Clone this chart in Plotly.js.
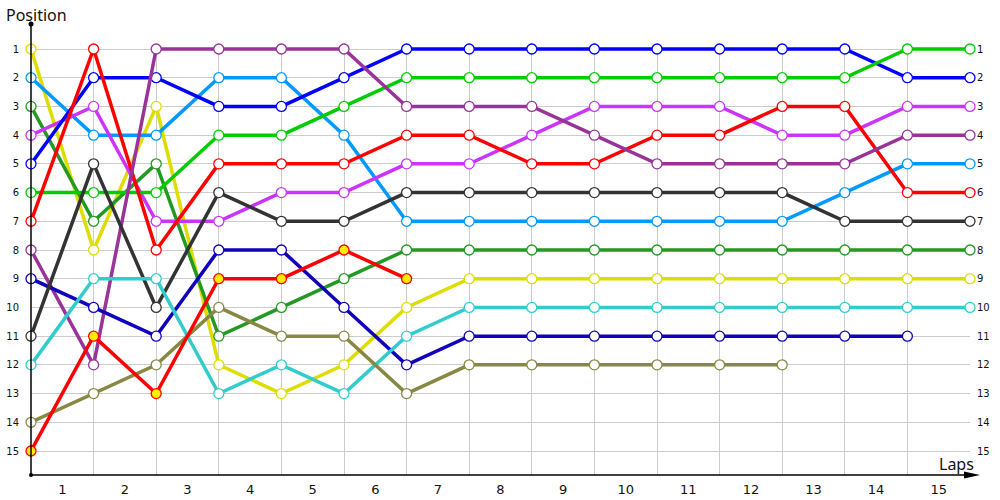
<!DOCTYPE html>
<html>
<head>
<meta charset="utf-8">
<script src="https://cdn.plot.ly/plotly-3.0.1.min.js"></script>
<style>html,body{margin:0;padding:0;background:#fff;}#chart{width:1000px;height:500px;}</style>
</head>
<body>
<div id="chart"></div>
<script>
// ---- data ----
const lapPoints = [0,1,2,3,4,5,6,7,8,9,10,11,12,13,14,15];
const lapLabelPos = [0.5,1.5,2.5,3.5,4.5,5.5,6.5,7.5,8.5,9.5,10.5,11.5,12.5,13.5,14.5];
const lapLabels = ["1","2","3","4","5","6","7","8","9","10","11","12","13","14","15"];
const positionTicks = [1,2,3,4,5,6,7,8,9,10,11,12,13,14,15];
const positionLabels = ["1","2","3","4","5","6","7","8","9","10","11","12","13","14","15"];

const yellowPos    = [1,8,3,12,13,12,10,9,9,9,9,9,9,9,9,9];
const lightBluePos = [2,4,4,2,2,4,7,7,7,7,7,7,7,6,5,5];
const darkGreenPos = [3,7,5,11,10,9,8,8,8,8,8,8,8,8,8,8];
const violetPos    = [4,3,7,7,6,6,5,5,4,3,3,3,4,4,3,3];
const bluePos      = [5,2,2,3,3,2,1,1,1,1,1,1,1,1,2,2];
const greenPos     = [6,6,6,4,4,3,2,2,2,2,2,2,2,2,1,1];
const redPos       = [7,1,8,5,5,5,4,4,5,5,4,4,3,3,6,6];
const purplePos    = [8,12,1,1,1,1,3,3,3,4,5,5,5,5,4,4];
const navyPos      = [9,10,11,8,8,10,12,11,11,11,11,11,11,11,11];
const grayPos      = [11,5,10,6,7,7,6,6,6,6,6,6,6,7,7,7];
const cyanPos      = [12,9,9,13,12,13,11,10,10,10,10,10,10,10,10,10];
const olivePos     = [14,13,12,10,11,11,13,12,12,12,12,12,12];
const redYellowPos = [15,11,13,9,9,8,9];

const seriesNames  = ["Yellow","Light blue","Dark green","Violet","Blue","Green","Red","Purple","Navy","Gray","Cyan","Olive","Red/Yellow"];
const seriesValues = [yellowPos,lightBluePos,darkGreenPos,violetPos,bluePos,greenPos,redPos,purplePos,navyPos,grayPos,cyanPos,olivePos,redYellowPos];
const seriesColors = ["#dddd00","#0099ff","#229922","#cc33ff","#0000ff","#00cc00","#ff0000","#993399","#1100bb","#333333","#33cccc","#888844","#ff0000"];
const markerFills  = ["#ffffff","#ffffff","#ffffff","#ffffff","#ffffff","#ffffff","#ffffff","#ffffff","#ffffff","#ffffff","#ffffff","#ffffff","#ffee00"];

// ---- geometry (layout only) ----
const L = 31, R = 970, T = 43, B = 475;
const W = R - L, H = B - T;
const px = p => (p - L) / W;
const py = p => (B - p) / H;

const traces = seriesValues.map((vals, i) => ({
  type: 'scatter',
  mode: 'lines+markers',
  name: seriesNames[i],
  x: lapPoints.slice(0, vals.length),
  y: vals,
  line: {color: seriesColors[i], width: 3.5},
  marker: {symbol: 'circle', size: 10, color: markerFills[i], line: {color: seriesColors[i], width: 1.3}},
  cliponaxis: false,
  hoverinfo: 'skip'
}));
traces.push({type:'scatter', x:[], y:[], xaxis:'x', yaxis:'y2', showlegend:false});

const layout = {
  width: 1000, height: 500,
  margin: {l: L, r: 1000 - R, t: T, b: 500 - B},
  paper_bgcolor: '#ffffff', plot_bgcolor: '#ffffff',
  showlegend: false,
  font: {family: 'DejaVu Sans, Verdana, sans-serif', color: '#111111'},
  xaxis: {
    range: [0, 15],
    tickmode: 'array', tickvals: lapLabelPos, ticktext: lapLabels,
    showgrid: false, zeroline: false, showline: false, ticks: '',
    ticklabelstandoff: 5,
    tickfont: {size: 13, color: '#111111', family: 'DejaVu Sans, Verdana, sans-serif'},
    minor: {tickmode: 'array', tickvals: lapPoints, showgrid: true, gridcolor: '#cccccc', gridwidth: 1, ticks: ''},
    fixedrange: true
  },
  yaxis: {
    range: [15.836, 0.791],
    tickmode: 'array', tickvals: positionTicks, ticktext: positionLabels,
    showgrid: true, gridcolor: '#cccccc', gridwidth: 1,
    zeroline: false, showline: false, ticks: '',
    ticklabelstandoff: 11,
    tickfont: {size: 10, color: '#111111', family: 'DejaVu Sans, Verdana, sans-serif'},
    fixedrange: true
  },
  yaxis2: {
    overlaying: 'y', matches: 'y', side: 'right', anchor: 'x',
    range: [15.836, 0.791],
    tickmode: 'array', tickvals: positionTicks, ticktext: positionLabels,
    showgrid: false, zeroline: false, showline: false, ticks: '',
    ticklabelstandoff: 6,
    tickfont: {size: 10, color: '#111111', family: 'DejaVu Sans, Verdana, sans-serif'},
    fixedrange: true
  },
  shapes: [
    {type: 'line', xref: 'paper', yref: 'paper', x0: px(31), x1: px(31), y0: py(475), y1: py(24), line: {color: '#000000', width: 1.5}},
    {type: 'circle', xref: 'paper', yref: 'paper', x0: px(28.5), x1: px(33.5), y0: py(21.5), y1: py(26.5), fillcolor: '#000000', line: {color: '#000000', width: 0}},
    {type: 'line', xref: 'paper', yref: 'paper', x0: px(31), x1: px(970), y0: py(475), y1: py(475), line: {color: '#000000', width: 1.5}},
    {type: 'path', xref: 'paper', yref: 'paper',
      path: `M ${px(964)} ${py(471.5)} L ${px(980)} ${py(475)} L ${px(964)} ${py(478.5)} Z`,
      fillcolor: '#000000', line: {color: '#000000', width: 0}},
    {type: 'circle', xref: 'paper', yref: 'paper', x0: px(29), x1: px(33), y0: py(473), y1: py(477), fillcolor: '#000000', line: {color: '#000000', width: 0}}
  ],
  annotations: [
    {text: 'Position', xref: 'paper', yref: 'paper', x: px(4), y: py(15), xanchor: 'left', yanchor: 'middle', showarrow: false,
     font: {size: 16, color: '#111111', family: 'Noto Sans, DejaVu Sans, sans-serif'}},
    {text: 'Laps', xref: 'paper', yref: 'paper', x: px(976), y: py(464), xanchor: 'right', yanchor: 'middle', showarrow: false,
     font: {size: 16, color: '#111111', family: 'Noto Sans, DejaVu Sans, sans-serif'}}
  ]
};

Plotly.newPlot('chart', traces, layout, {staticPlot: true, displayModeBar: false});
</script>
</body>
</html>
